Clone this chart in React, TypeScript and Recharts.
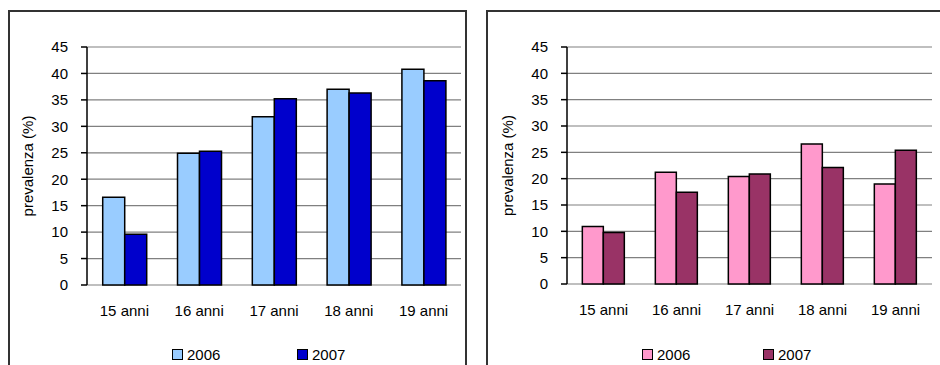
import React from 'react';
import { BarChart, Bar, XAxis, YAxis, CartesianGrid, Legend, Label } from 'recharts';

const categories = ['15 anni', '16 anni', '17 anni', '18 anni', '19 anni'];
const leftValues2006 = [16.6, 24.9, 31.8, 37.0, 40.8];
const leftValues2007 = [9.6, 25.3, 35.2, 36.3, 38.6];
const rightValues2006 = [10.9, 21.2, 20.4, 26.6, 19.0];
const rightValues2007 = [9.8, 17.4, 20.9, 22.1, 25.4];
const yTicks = [0, 5, 10, 15, 20, 25, 30, 35, 40, 45];
const boundaryTicks = [0, 1, 2, 3, 4, 5];
const seriesNames = ['2006', '2007'];
const yLabel = 'prevalenza (%)';

const FONT = '"Liberation Sans", Arial, sans-serif';

const leftData = categories.map((c, i) => ({ cat: c, a: leftValues2006[i], b: leftValues2007[i] }));
const rightData = categories.map((c, i) => ({ cat: c, a: rightValues2006[i], b: rightValues2007[i] }));

type PanelProps = {
  data: { cat: string; a: number; b: number }[];
  colors: [string, string];
  yAxisWidth: number;
  marginRight: number;
  marginBottom: number;
  labelX: number;
  legendLeft: number;
  legendSpacing: number;
};

function Panel({ data, colors, yAxisWidth, marginRight, marginBottom, labelX, legendLeft, legendSpacing }: PanelProps) {
  const renderLegend = () => (
    <div style={{ display: 'flex', paddingLeft: legendLeft, fontFamily: FONT, fontSize: 15, color: '#000' }}>
      {seriesNames.map((n, i) => (
        <div key={n} style={{ display: 'flex', alignItems: 'center', width: legendSpacing }}>
          <span style={{ display: 'inline-block', width: 9, height: 9, border: '1px solid #000', background: colors[i], marginRight: 4 }} />
          <span>{n}</span>
        </div>
      ))}
    </div>
  );
  return (
    <BarChart
      width={470}
      height={365}
      data={data}
      margin={{ top: 47, right: marginRight, left: 0, bottom: marginBottom }}
      barCategoryGap="21%"
      barGap={0}
    >
      <CartesianGrid xAxisId="cat" yAxisId="l" vertical={false} stroke="#808080" strokeWidth={1.2} />
      <XAxis
        xAxisId="bound"
        type="number"
        domain={[0, 5]}
        ticks={boundaryTicks}
        allowDataOverflow
        height={0}
        tick={false}
        tickSize={6}
        stroke="#000"
        axisLine={{ stroke: '#000', strokeWidth: 1.5 }}
        tickLine={{ stroke: '#000', strokeWidth: 1.5 }}
      />
      <XAxis
        xAxisId="cat"
        dataKey="cat"
        axisLine={false}
        tickLine={false}
        tickSize={6}
        tickMargin={14}
        height={30}
        interval={0}
        tick={{ fill: '#000', fontSize: 15, fontFamily: FONT }}
      />
      <YAxis
        yAxisId="l"
        domain={[0, 45]}
        ticks={yTicks}
        width={yAxisWidth}
        tickSize={6}
        tickMargin={13}
        interval={0}
        axisLine={{ stroke: '#000', strokeWidth: 1.5 }}
        tickLine={{ stroke: '#000', strokeWidth: 1.5 }}
        tick={{ fill: '#000', fontSize: 15, fontFamily: FONT }}
      >
        <Label
          content={(props: any) => {
            const vb = props.viewBox || {};
            const cx = (vb.x || 0) + labelX;
            const cy = (vb.y || 0) + (vb.height || 0) / 2;
            return (
              <text
                x={cx}
                y={cy}
                transform={`rotate(-90 ${cx} ${cy})`}
                textAnchor="middle"
                dominantBaseline="central"
                fontSize={15}
                fontFamily={FONT}
                fill="#000"
              >
                {yLabel}
              </text>
            );
          }}
        />
      </YAxis>
      <YAxis
        yAxisId="r"
        orientation="right"
        domain={[0, 45]}
        width={0}
        tick={false}
        tickLine={false}
        axisLine={{ stroke: '#808080', strokeWidth: 1.5 }}
      />
      <Legend
        layout="horizontal"
        verticalAlign="middle"
        align="center"
        content={renderLegend}
        wrapperStyle={{ position: 'absolute', top: 346, left: 0, width: 470, height: 18 }}
      />
      <Bar xAxisId="cat" yAxisId="l" dataKey="a" name={seriesNames[0]} fill={colors[0]} stroke="#000" strokeWidth={1.5} isAnimationActive={false} />
      <Bar xAxisId="cat" yAxisId="l" dataKey="b" name={seriesNames[1]} fill={colors[1]} stroke="#000" strokeWidth={1.5} isAnimationActive={false} />
    </BarChart>
  );
}

export default function App() {
  return (
    <div style={{ position: 'absolute', left: 0, top: 0, width: 940, height: 365, overflow: 'hidden', background: '#fff' }}>
      <div style={{ position: 'absolute', left: 8, top: 10, width: 455, height: 420, border: '2px solid #333' }} />
      <div style={{ position: 'absolute', left: 486, top: 10, width: 500, height: 420, border: '2px solid #333' }} />
      <div style={{ position: 'absolute', left: 0, top: 0 }}>
        <Panel
          data={leftData}
          colors={['#99CCFF', '#0000CC']}
          yAxisWidth={87}
          marginRight={9}
          marginBottom={50}
          labelX={27}
          legendLeft={172}
          legendSpacing={125}
        />
      </div>
      <div style={{ position: 'absolute', left: 470, top: 0 }}>
        <Panel
          data={rightData}
          colors={['#FF99CC', '#993366']}
          yAxisWidth={97}
          marginRight={8}
          marginBottom={51}
          labelX={37}
          legendLeft={172}
          legendSpacing={121}
        />
      </div>
    </div>
  );
}
